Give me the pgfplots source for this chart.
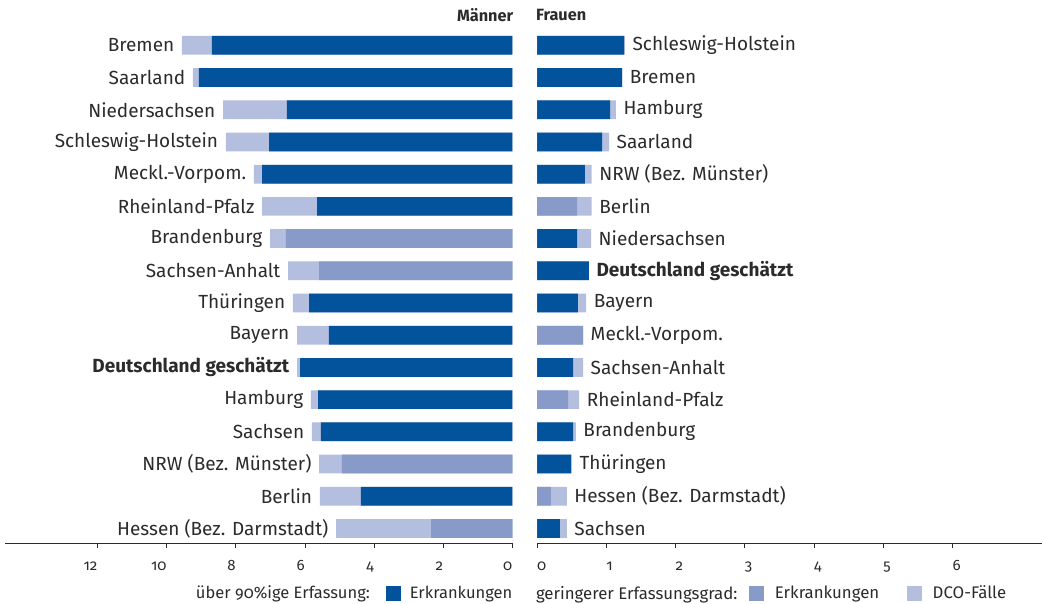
\documentclass[border=0pt]{standalone}
\usepackage{pgfplots}
\pgfplotsset{compat=1.18}
\usepackage{pgfplotstable}
\usepackage{fontspec}
\setmainfont{Fira Sans}[Numbers=OldStyle]
\definecolor{cDark}{HTML}{03529C}
\definecolor{cMed}{HTML}{889BC8}
\definecolor{cLight}{HTML}{B4BEDE}
\definecolor{txt}{HTML}{2B2B2B}

% y, Erkrankungen (>90% Erfassung), Erkrankungen (geringerer Erfassungsgrad), Summe inkl. DCO-Faelle
\pgfplotstableread[col sep=comma]{
y,dark,med,total,label
15,8.69,0,9.56,Bremen
14,9.07,0,9.24,Saarland
13,6.52,0,8.37,Niedersachsen
12,7.04,0,8.29,Schleswig-Holstein
11,7.24,0,7.48,Meckl.-Vorpom.
10,5.65,0,7.24,Rheinland-Pfalz
9,0,6.55,7.01,Brandenburg
8,0,5.59,6.49,Sachsen-Anhalt
7,5.88,0,6.35,Thüringen
6,5.31,0,6.23,Bayern
5,6.14,0,6.23,\textbf{Deutschland geschätzt}
4,5.62,0,5.83,Hamburg
3,5.54,0,5.80,Sachsen
2,0,4.93,5.59,NRW (Bez. Münster)
1,4.38,0,5.57,Berlin
0,0,2.35,5.10,Hessen (Bez. Darmstadt)
}\maenner

\pgfplotstableread[col sep=comma]{
y,dark,med,total,label
15,1.257,0,1.27,Schleswig-Holstein
14,1.23,0,1.23,Bremen
13,1.055,0,1.14,Hamburg
12,0.94,0,1.04,Saarland
11,0.69,0,0.79,NRW (Bez. Münster)
10,0,0.58,0.79,Berlin
9,0.58,0,0.78,Niedersachsen
8,0.75,0,0.75,\textbf{Deutschland geschätzt}
7,0.59,0,0.71,Bayern
6,0,0.665,0.665,Meckl.-Vorpom.
5,0.52,0,0.665,Sachsen-Anhalt
4,0,0.45,0.61,Rheinland-Pfalz
3,0.52,0,0.56,Brandenburg
2,0.49,0,0.505,Thüringen
1,0,0.20,0.43,Hessen (Bez. Darmstadt)
0,0.33,0,0.43,Sachsen
}\frauen

\pgfplotsset{
  common/.style={
    scale only axis, height=515.7pt, ymin=-0.46, ymax=15.55,
    enlargelimits=false,
    xbar, bar width=18.7pt, bar shift=0pt,
    axis x line*=bottom, axis y line=none,
    axis line style={-, line width=1pt, draw=txt},
    tick align=outside, major tick length=5pt,
    tick style={line width=0.8pt, draw=txt},
    ytick=\empty,
    clip=false,
    /pgf/number format/assume math mode=true,
    tick label style={font=\fontsize{15}{18}\selectfont, text=txt, inner sep=0pt},
    legend image code/.code={\fill[##1] (0pt,-7.5pt) rectangle (15pt,7.5pt);},
    legend columns=-1,
  }
}

\begin{document}
\begin{tikzpicture}
\path[use as bounding box] (0,0) rectangle (1042pt,604pt);

\begin{axis}[common, at={(5pt,60.7pt)}, anchor=south west,
  width=507.3pt, x dir=reverse, xmin=0, xmax=14.68, xtick={0,2,...,12},
  xticklabel style={anchor=base east, yshift=-22pt},
  legend style={at={(1,0)}, anchor=east, yshift=-50pt, draw=none, fill=none,
    inner sep=0pt, outer sep=0pt, font=\fontsize{16.5}{19}\selectfont, text=txt,
    nodes={inner sep=0pt},
    /tikz/column sep=9pt, /tikz/column 1/.style={column sep=0pt},
    /tikz/column 2/.style={column sep=16pt}},
]
\addlegendimage{empty legend}\addlegendentry{über 90\%ige Erfassung:}
\addlegendimage{fill=cDark, draw=none}\addlegendentry{Erkrankungen}
\addplot[fill=cLight, draw=none, point meta=explicit symbolic,
  nodes near coords={\pgfplotspointmeta},
  every node near coord/.append style={anchor=east, xshift=-7.5pt, inner sep=0pt,
    text=txt, font=\fontsize{19}{22}\selectfont}]
  table[x=total,y=y,meta=label]{\maenner};
\addplot[fill=cDark, draw=none] table[x=dark,y=y]{\maenner};
\addplot[fill=cMed, draw=none] table[x=med,y=y]{\maenner};
\end{axis}

\begin{axis}[common, at={(537pt,60.7pt)}, anchor=south west,
  width=504.7pt, xmin=0, xmax=7.29, xtick={0,1,...,6},
  xticklabel style={anchor=base west, yshift=-22pt},
  legend style={at={(0,0)}, anchor=west, yshift=-50pt, xshift=-1pt, draw=none, fill=none,
    inner sep=0pt, outer sep=0pt, font=\fontsize{16.8}{19}\selectfont, text=txt,
    nodes={inner sep=0pt},
    /tikz/column sep=10.5pt, /tikz/column 1/.style={column sep=0pt},
    /tikz/column 2/.style={column sep=12pt},
    /tikz/column 4/.style={column sep=28pt}},
]
\addlegendimage{empty legend}\addlegendentry{geringerer Erfassungsgrad:}
\addlegendimage{fill=cMed, draw=none}\addlegendentry{Erkrankungen}
\addlegendimage{fill=cLight, draw=none}\addlegendentry{DCO-Fälle}
\addplot[fill=cLight, draw=none, point meta=explicit symbolic,
  nodes near coords={\pgfplotspointmeta},
  every node near coord/.append style={anchor=west, xshift=7.5pt, inner sep=0pt,
    text=txt, font=\fontsize{19}{22}\selectfont}]
  table[x=total,y=y,meta=label]{\frauen};
\addplot[fill=cDark, draw=none] table[x=dark,y=y]{\frauen};
\addplot[fill=cMed, draw=none] table[x=med,y=y]{\frauen};
\end{axis}

\node[anchor=east, inner sep=0pt, text=txt, font=\fontsize{16.3}{18}\selectfont\bfseries] at (513.3pt,589pt) {Männer};
\node[anchor=west, inner sep=0pt, text=txt, font=\fontsize{16.3}{18}\selectfont\bfseries] at (536pt,589pt) {Frauen};
\end{tikzpicture}
\end{document}
